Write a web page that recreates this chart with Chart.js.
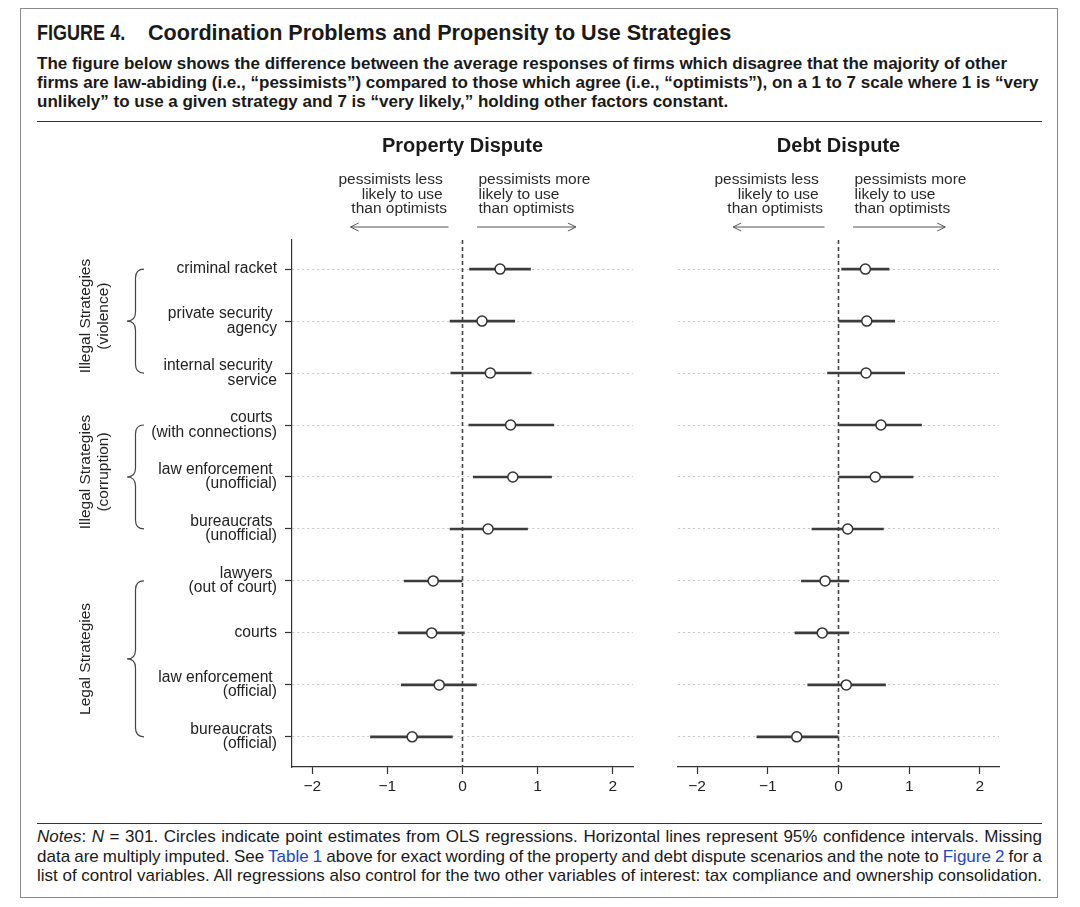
<!DOCTYPE html>
<html>
<head>
<meta charset="utf-8">
<script src="https://cdn.jsdelivr.net/npm/chart.js@4.4.1/dist/chart.umd.min.js"></script>
<style>
  body { margin:0; background:#fff; width:1080px; height:907px; position:relative; overflow:hidden;
         font-family:"Liberation Sans", Arial, sans-serif; color:#1a1a1a; }
  .frame { position:absolute; left:20px; top:8px; width:1036px; height:888px; border:1px solid #8a8a8a; }
  .title { position:absolute; left:37px; top:20px; font-weight:bold; font-size:21.6px; line-height:26px; white-space:nowrap; }
  .title .fig { display:inline-block; width:111px; }
  .title .fig span { display:inline-block; transform:scaleX(0.835); transform-origin:left center; }
  .sub { position:absolute; left:37px; top:54px; font-weight:bold; font-size:17px; line-height:19px; white-space:nowrap; }
  .rule { position:absolute; left:37px; width:1005px; height:0; border-top:1px solid #333; }
  .notes { position:absolute; left:37px; top:827px; width:1005px; font-size:17px; line-height:19.5px; }
  .notes .nl { white-space:nowrap; }
  .notes .nl span.in { display:inline-block; }
  .lk { color:#2446c8; }
  .panel { position:absolute; top:130px; }
</style>
</head>
<body>
<div class="frame"></div>
<div class="title"><span class="fig"><span>FIGURE 4.</span></span>Coordination Problems and Propensity to Use Strategies</div>
<div class="sub">The figure below shows the difference between the average responses of firms which disagree that the majority of other<br>firms are law-abiding (i.e., “pessimists”) compared to those which agree (i.e., “optimists”), on a 1 to 7 scale where 1 is “very<br>unlikely” to use a given strategy and 7 is “very likely,” holding other factors constant.</div>
<div class="rule" style="top:121px"></div>
<div class="panel" style="left:0px"><canvas id="c1" width="650" height="680" style="width:650px;height:680px"></canvas></div>
<div class="panel" style="left:650px"><canvas id="c2" width="430" height="680" style="width:430px;height:680px"></canvas></div>
<div class="rule" style="top:823px"></div>
<div class="notes">
  <div class="nl"><span class="in"><i>Notes</i>: <i>N</i> = 301. Circles indicate point estimates from OLS regressions. Horizontal lines represent 95% confidence intervals. Missing</span></div>
  <div class="nl"><span class="in">data are multiply imputed. See <span class="lk">Table 1</span> above for exact wording of the property and debt dispute scenarios and the note to <span class="lk">Figure 2</span> for a</span></div>
  <div class="nl"><span class="in">list of control variables. All regressions also control for the two other variables of interest: tax compliance and ownership consolidation.</span></div>
</div>

<script>
// ---------------- DATA ----------------
const categories = [
  ["criminal racket"],
  ["private security ", "agency"],
  ["internal security ", "service"],
  ["courts ", "(with connections)"],
  ["law enforcement ", "(unofficial)"],
  ["bureaucrats ", "(unofficial)"],
  ["lawyers ", "(out of court)"],
  ["courts"],
  ["law enforcement ", "(official)"],
  ["bureaucrats ", "(official)"]
];
const groupLabels = [["Illegal Strategies", "(violence)"], ["Illegal Strategies", "(corruption)"], ["Legal Strategies"]];
const groupRows = [[1, 3], [4, 6], [7, 10]];

const propertyEst = [0.50, 0.26, 0.37, 0.64, 0.67, 0.34, -0.39, -0.41, -0.31, -0.67];
const propertyLo  = [0.09, -0.17, -0.16, 0.08, 0.14, -0.17, -0.78, -0.86, -0.82, -1.23];
const propertyHi  = [0.91, 0.70, 0.92, 1.22, 1.19, 0.87, 0.00, 0.03, 0.19, -0.13];

const debtEst = [0.38, 0.40, 0.39, 0.60, 0.52, 0.13, -0.19, -0.23, 0.11, -0.59];
const debtLo  = [0.04, 0.00, -0.16, 0.01, 0.00, -0.38, -0.53, -0.62, -0.44, -1.16];
const debtHi  = [0.72, 0.80, 0.94, 1.18, 1.06, 0.64, 0.15, 0.15, 0.67, 0.00];

const xTicks = [-2, -1, 0, 1, 2];
const lessText = ["pessimists less ", "likely to use ", "than optimists"];
const moreText = ["pessimists more", "likely to use", "than optimists"];
// ---------------------------------------

// justify note lines to full width by adjusting word spacing
document.querySelectorAll('.notes .nl span.in').forEach(el => {
  const w = el.getBoundingClientRect().width;
  const n = (el.textContent.match(/ /g) || []).length;
  el.style.wordSpacing = ((1005 - w) / n) + 'px';
});

const X_MIN = -2.27, X_MAX = 2.27, Y_MIN = 0.44, Y_MAX = 10.58;
const FONT = '"Liberation Sans", Arial, sans-serif';
Chart.defaults.font.family = FONT;
Chart.defaults.animation = false;

function buildDatasets(est, lo, hi) {
  const ds = [];
  ds.push({ data: est.map((v, i) => ({ x: v, y: i + 1 })), pointRadius: 5, pointBackgroundColor: '#fff',
            pointBorderColor: '#333', pointBorderWidth: 1.5, showLine: false });
  lo.forEach((l, i) => ds.push({ data: [{ x: l, y: i + 1 }, { x: hi[i], y: i + 1 }], showLine: true,
            borderColor: '#3c3c3c', borderWidth: 2.6, pointRadius: 0 }));
  ds.push({ data: [{ x: 0, y: Y_MIN }, { x: 0, y: Y_MAX }], showLine: true, borderColor: '#444',
            borderWidth: 1.6, borderDash: [4, 3], pointRadius: 0 });
  return ds;
}

function arrow(ctx, x1, x2, y) {
  ctx.beginPath(); ctx.moveTo(x1, y); ctx.lineTo(x2, y); ctx.stroke();
  const d = x2 > x1 ? -1 : 1;
  ctx.beginPath(); ctx.moveTo(x2 + d * 8, y - 4); ctx.lineTo(x2, y); ctx.lineTo(x2 + d * 8, y + 4); ctx.stroke();
}

function brace(ctx, xTip, xEnd, top, bot) {
  const xm = (xTip + xEnd) / 2, mid = (top + bot) / 2, r = 9;
  ctx.beginPath();
  ctx.moveTo(xEnd, top);
  ctx.quadraticCurveTo(xm, top, xm, top + r);
  ctx.lineTo(xm, mid - r);
  ctx.quadraticCurveTo(xm, mid, xTip, mid);
  ctx.quadraticCurveTo(xm, mid, xm, mid + r);
  ctx.lineTo(xm, bot - r);
  ctx.quadraticCurveTo(xm, bot, xEnd, bot);
  ctx.stroke();
}

function decor(panelTitle, withGroups) {
  return { id: 'decor', afterDraw(chart) {
    const ctx = chart.ctx, xs = chart.scales.x, ys = chart.scales.y;
    const z = xs.getPixelForValue(0);
    ctx.save();
    ctx.fillStyle = '#1a1a1a';
    ctx.textBaseline = 'middle';
    ctx.textAlign = 'center';
    ctx.font = 'bold 20px ' + FONT;
    ctx.fillText(panelTitle, z, 16);
    ctx.font = '15.5px ' + FONT;
    ctx.fillStyle = '#2a2a2a';
    ctx.textAlign = 'right';
    lessText.forEach((t, i) => ctx.fillText(t, z - 15.5, 50 + i * 14.3));
    ctx.textAlign = 'left';
    moreText.forEach((t, i) => ctx.fillText(t, z + 16, 50 + i * 14.3));
    ctx.strokeStyle = '#555'; ctx.lineWidth = 1;
    arrow(ctx, z - 14, xs.getPixelForValue(-1.49), 97);
    arrow(ctx, z + 14.5, xs.getPixelForValue(1.51), 97);
    if (withGroups) {
      ctx.strokeStyle = '#444'; ctx.lineWidth = 1.2;
      ctx.fillStyle = '#222';
      ctx.font = '15.5px ' + FONT;
      groupRows.forEach((g, k) => {
        const top = ys.getPixelForValue(g[0]), bot = ys.getPixelForValue(g[1]);
        brace(ctx, 127, 144, top, bot);
        const lines = groupLabels[k];
        const cy = (top + bot) / 2 - (lines.length > 1 ? 5 : 0);
        lines.forEach((t, j) => {
          ctx.save();
          ctx.translate(86 + j * 17.5, cy);
          ctx.rotate(-Math.PI / 2);
          ctx.textAlign = 'center';
          ctx.fillText(t, 0, 0);
          ctx.restore();
        });
      });
    }
    ctx.restore();
  }};
}

function makeChart(id, est, lo, hi, panelTitle, left) {
  return new Chart(document.getElementById(id), {
    type: 'scatter',
    data: { datasets: buildDatasets(est, lo, hi) },
    options: {
      responsive: false,
      animation: false,
      layout: { padding: left ? { left: 0, right: 17, top: 110, bottom: 8 } : { left: 0, right: 81, top: 110, bottom: 8 } },
      plugins: { legend: { display: false }, tooltip: { enabled: false } },
      scales: {
        x: {
          type: 'linear', min: X_MIN, max: X_MAX,
          afterBuildTicks: s => { s.ticks = xTicks.map(v => ({ value: v })); },
          afterFit: s => { s.height = 35; },
          grid: { drawOnChartArea: false, drawTicks: true, tickLength: 7, tickColor: '#333', tickWidth: 1.2 },
          border: { display: true, color: '#333', width: 1.2 },
          ticks: { font: { size: 15.5 }, color: '#222', padding: 3, maxRotation: 0,
                   callback: v => v < 0 ? '\u2212' + Math.abs(v) : String(v) }
        },
        y: {
          type: 'linear', min: Y_MIN, max: Y_MAX, reverse: true,
          afterBuildTicks: s => { s.ticks = categories.map((c, i) => ({ value: i + 1 })); },
          afterFit: s => { s.width = left ? 292 : 28; },
          grid: { color: '#c8c8c8', lineWidth: 1, drawTicks: left, tickLength: 7, tickColor: '#333', tickWidth: 1.2, tickBorderDash: [] },
          border: { display: left, color: '#333', width: 1.2, dash: [2, 3] },
          ticks: { display: left, font: { size: 15.6, lineHeight: 0.92 }, color: '#222', padding: 8,
                   callback: v => categories[Math.round(v) - 1] }
        }
      }
    },
    plugins: [decor(panelTitle, left)]
  });
}

makeChart('c1', propertyEst, propertyLo, propertyHi, 'Property Dispute', true);
makeChart('c2', debtEst, debtLo, debtHi, 'Debt Dispute', false);
</script>
</body>
</html>
